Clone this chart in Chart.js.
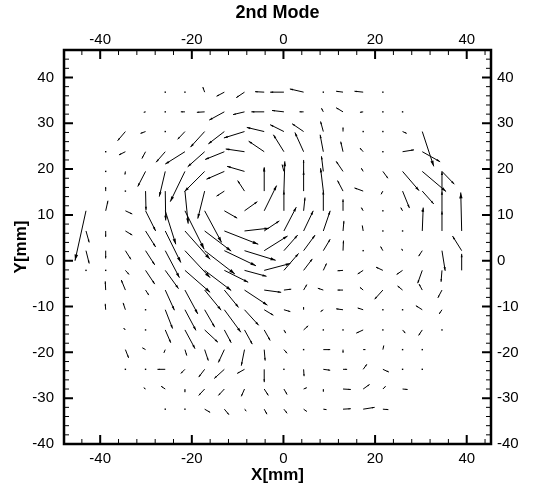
<!DOCTYPE html>
<html>
<head>
<meta charset="utf-8">
<script src="https://cdn.jsdelivr.net/npm/chart.js@4.4.0/dist/chart.umd.min.js"></script>
<style>
  html, body { margin: 0; padding: 0; background: #fff; }
</style>
</head>
<body>
<canvas id="chart" width="539" height="486"></canvas>
<script>
// measurement grid (mm)
const xGrid = [-43.1, -38.8, -34.5, -30.1, -25.8, -21.5, -17.2, -12.9, -8.5, -4.2,
  0.1, 4.4, 8.7, 13.0, 17.4, 21.7, 26.0, 30.3, 34.6, 38.9];
const yGrid = [36.8, 32.5, 28.2, 23.8, 19.5, 15.2, 10.9, 6.5, 2.2, -2.1,
  -6.4, -10.7, -15.1, -19.4, -23.7, -28.0, -32.4];

// vector components, one row per yGrid entry (null = no vector)
const uRows = [
  [null, null, null, null, 0.1, 0.1, -0.4, -1.7, -1.8, -2.0, -3.0, -3.0, 0.1, -1.5, -1.9, 0.1, null, null, null, null],
  [null, null, null, -0.4, 0.1, -0.9, -1.7, -3.3, -2.5, -2.8, -2.6, -0.9, -0.4, -1.5, -0.7, 0.1, 0.1, null, null, null],
  [null, null, -1.7, -1.1, 0.1, -1.6, -3.1, -3.5, -4.5, -3.8, -3.0, -2.5, -0.6, 0, 0.1, 0.1, 0.9, 2.5, null, null],
  [null, 0.1, -1.4, -0.8, -2.0, -4.3, -3.7, -4.2, -4.1, -3.4, -2.3, -1.9, -0.7, -0.5, -0.7, 0.1, 2.5, 3.9, null, null],
  [null, 0.1, -0.1, -1.7, -1.3, -3.2, -4.4, -3.9, -3.8, 0, -0.4, 0, -0.4, -1.5, -0.4, 1.1, 3.6, 5.2, 2.7, null],
  [null, 0, 0.1, 0.1, 0.1, 0.7, -1.5, -1.7, -1.5, 0, 0.2, 0, -0.6, -1.2, -1.9, -0.4, 1.5, 2.5, 0, null],
  [-2.4, 0.5, 1.5, 2.2, 2.3, 4.2, 3.7, 2.8, 2.8, 2.7, 0, 0.3, 0, 0, -0.4, 0.1, -0.4, 0.1, 0, null],
  [0.7, 0, 1.5, 2.2, 3.4, 5.5, 5.8, 7.4, 5.3, 3.3, 2.7, 2.1, 1.5, 0.2, -0.2, 0.1, 0.1, 0.2, 0, -0.2],
  [0.7, 0, 1.2, 2.0, 3.1, 5.5, 6.6, 6.9, 6.8, 5.1, 3.0, 2.5, 1.5, 0.1, 0.1, -0.5, -0.2, -0.8, 0.7, -2.0],
  [0.1, 0.1, 0.8, 2.0, 2.9, 5.5, 5.8, 5.2, 4.8, 5.7, 3.2, 1.9, 0.7, -1.2, -1.2, -1.5, -1.3, -1.0, -0.2, 0],
  [null, -0.1, -0.9, 0.7, 2.0, 2.8, 3.6, 3.1, 5.0, 3.7, 1.6, 0.7, -1.2, -1.2, -0.7, -1.8, -1.1, -0.7, -0.9, null],
  [null, -0.1, -0.5, 0.1, 1.6, 2.4, 2.2, 3.6, 3.1, 2.0, 1.4, 0, -0.6, -1.5, -1.2, 0.1, 0.1, -1.4, -0.6, null],
  [null, null, -0.4, 0.1, 1.2, 2.2, 2.9, 1.5, 1.7, 1.3, 0.4, 1.0, 0.1, 0.1, -1.5, 0.1, 0.6, -0.8, 0.1, null],
  [null, null, 0.7, -0.7, -0.3, 0.4, 0.8, -1.3, -0.7, 0.2, 0.7, 0.1, 1.5, 0, 0.5, 0.2, 0.1, 0.1, null, null],
  [null, null, 0.1, 0.1, -1.7, -0.9, -1.3, -2.2, -1.6, 0, 0.1, 0.1, 1.5, 0.9, 0.8, 1.3, 0.1, 0.1, null, null],
  [null, null, null, -0.4, -0.9, 0, -1.3, -1.3, -0.7, 0.9, 0.7, 0.7, 0, 1.7, 1.4, 0.6, 1.1, null, null, null],
  [null, null, null, null, 0.1, 0.1, 1.2, 1.0, 0.4, 0.6, 0.7, 0.7, 0.7, 1.7, 2.5, 1.2, null, null, null, null],
];
const vRows = [
  [null, null, null, null, 0, 0, 1.1, -0.9, -1.2, 0.1, 0, 0.7, 0, 0.2, 0.2, 0, null, null, null, null],
  [null, null, null, -0.1, 0, 0, -0.1, -1.8, -0.6, 0, 0.3, 0, 0.8, 0.9, -0.1, 0, 0, null, null, null],
  [null, null, -2.0, -0.4, 0, -1.7, -3.4, -2.7, -1.4, 0.9, 1.5, 1.7, 2.2, 0.9, 0, 0, -0.4, -7.6, null, null],
  [null, 0, -0.7, -1.5, -2.3, -2.7, -3.3, -1.7, 0.6, 2.3, 3.7, 4.2, 3.7, 2.2, 0.8, 0, 0.4, -2.2, null, null],
  [null, 0, -0.7, -3.3, -5.5, -6.6, -4.4, -1.7, 1.1, 0.7, 1.5, 2.5, 3.3, 2.2, 0.7, -1.5, -4.2, -4.4, -2.8, null],
  [null, 0.9, 0, -4.2, -6.4, -7.1, -6.0, -1.1, 2.3, 5.2, 6.5, 4.4, 5.0, 2.3, 0.7, -0.7, -3.7, -2.8, 4.3, null],
  [-10.9, 2.2, -0.7, -4.4, -7.3, -8.4, -6.9, -1.6, 2.0, 5.5, 4.4, 2.9, 4.4, 2.5, 0.7, 0, 0.7, 0, 4.3, null],
  [-2.5, -1.3, -0.9, -3.5, -6.9, -6.2, -4.4, -2.9, 0.6, 2.2, 5.2, 4.4, 4.4, 2.2, 1.2, 0, 0, 5.1, 4.4, 8.4],
  [-2.8, -1.7, -1.9, -3.1, -5.9, -5.9, -5.1, -3.3, -2.1, 3.2, 3.4, 3.4, 2.5, 2.2, 0, 0.9, 0.4, -1.2, -4.4, 3.2],
  [0, 0, -0.9, -3.0, -4.0, -4.8, -4.4, -2.6, -1.3, 1.5, 3.7, 2.5, 1.5, -0.1, -0.8, 0.7, -0.9, -2.8, -2.5, 3.6],
  [null, 1.9, 2.2, -1.1, -4.4, -5.2, -4.4, -3.8, -3.3, -0.5, 0.2, 1.2, 0.4, 0, 0.6, -2.0, 0.9, 1.3, -1.7, null],
  [null, 1.3, 1.5, 0, -4.1, -4.5, -3.8, -4.9, -3.4, -1.2, -0.4, 0.6, -0.4, 0.2, 0.4, 0, 0, 0.9, -0.9, null],
  [null, null, 0.4, 0, -2.8, -4.1, -2.7, -2.8, -3.1, -2.3, -0.7, 0.9, 0, 0, -0.7, 0, -0.7, -1.2, 0, null],
  [null, null, -1.8, 0.4, -0.7, -1.3, -2.4, -2.8, -3.5, -2.4, -0.8, 0, 0, -0.7, 0, 0.9, 0, 0, null, null],
  [null, null, 0, 0, 0, -0.9, -1.7, -2.0, -0.9, -2.8, 0, -1.5, -0.2, 0, 1.1, -0.6, 0, 0, null, null],
  [null, null, null, 0.3, 0.6, -0.7, -1.4, -1.4, -1.6, -1.4, -1.2, 0.3, -0.6, -0.1, 1.0, 0.6, -0.1, null, null, null],
  [null, null, null, null, 0, 0, -0.7, -1.2, -0.4, -1.1, -0.9, -0.5, -0.1, 0.1, 0.4, -0.1, null, null, null, null],
];

const xTicks = [-40, -20, 0, 20, 40];
const yTicks = [-40, -30, -20, -10, 0, 10, 20, 30, 40];
const xMinor = [-44, -36, -32, -28, -24, -16, -12, -8, -4, 4, 8, 12, 16, 24, 28, 32, 36, 44];
const yMinor = [-38, -36, -34, -32, -28, -26, -24, -22, -18, -16, -14, -12, -8, -6, -4, -2,
  2, 4, 6, 8, 12, 14, 16, 18, 22, 24, 26, 28, 32, 34, 36, 38, 42, 44];

const vectors = [];
yGrid.forEach((yv, j) => {
  xGrid.forEach((xv, i) => {
    if (uRows[j][i] !== null) {
      vectors.push({ x: xv, y: yv, u: uRows[j][i], v: vRows[j][i] });
    }
  });
});

const tickFont = { family: 'Liberation Sans, Arial, sans-serif', size: 15 };

// arrows drawn tail-at-point, head at (x+u, y+v)
const quiverPlugin = {
  id: 'quiver',
  afterDatasetsDraw(chart) {
    const { ctx } = chart;
    const xs = chart.scales.x;
    const ys = chart.scales.y;
    ctx.save();
    ctx.strokeStyle = '#000';
    ctx.fillStyle = '#000';
    ctx.lineWidth = 1;
    chart.data.datasets[0].data.forEach((p) => {
      const x0 = xs.getPixelForValue(p.x);
      const y0 = ys.getPixelForValue(p.y);
      const x1 = xs.getPixelForValue(p.x + p.u);
      const y1 = ys.getPixelForValue(p.y + p.v);
      const len = Math.hypot(x1 - x0, y1 - y0);
      if (len < 1.5) {
        ctx.fillRect(x0 - 0.7, y0 - 0.7, 1.4, 1.4);
        return;
      }
      const ang = Math.atan2(y1 - y0, x1 - x0);
      const head = Math.min(6.5, 1.5 + len * 0.12);
      const spread = 0.28;
      ctx.beginPath();
      ctx.moveTo(x0, y0);
      ctx.lineTo(x1, y1);
      ctx.stroke();
      ctx.beginPath();
      ctx.moveTo(x1, y1);
      ctx.lineTo(x1 - head * Math.cos(ang - spread), y1 - head * Math.sin(ang - spread));
      ctx.lineTo(x1 - head * Math.cos(ang + spread), y1 - head * Math.sin(ang + spread));
      ctx.closePath();
      ctx.fill();
    });
    ctx.restore();
  },
};

// box frame, inward tick marks and titles
const framePlugin = {
  id: 'frame',
  afterDraw(chart) {
    const { ctx, chartArea: a } = chart;
    const xs = chart.scales.x;
    const ys = chart.scales.y;
    ctx.save();
    ctx.strokeStyle = '#000';

    const xTick = (v, len, w) => {
      const px = xs.getPixelForValue(v);
      ctx.lineWidth = w;
      ctx.beginPath();
      ctx.moveTo(px, a.top); ctx.lineTo(px, a.top + len);
      ctx.moveTo(px, a.bottom); ctx.lineTo(px, a.bottom - len);
      ctx.stroke();
    };
    const yTick = (v, len, w) => {
      const py = ys.getPixelForValue(v);
      ctx.lineWidth = w;
      ctx.beginPath();
      ctx.moveTo(a.left, py); ctx.lineTo(a.left + len, py);
      ctx.moveTo(a.right, py); ctx.lineTo(a.right - len, py);
      ctx.stroke();
    };
    xMinor.forEach((v) => xTick(v, 5, 1));
    xTicks.forEach((v) => xTick(v, 9, 2));
    yMinor.forEach((v) => yTick(v, 5, 1));
    yTicks.forEach((v) => yTick(v, 9, 2));

    ctx.lineWidth = 2.5;
    ctx.strokeRect(a.left, a.top, a.right - a.left, a.bottom - a.top);

    ctx.fillStyle = '#000';
    ctx.textAlign = 'center';
    ctx.textBaseline = 'alphabetic';
    ctx.font = 'bold 18px "Liberation Sans", Arial, sans-serif';
    ctx.fillText('2nd Mode', (a.left + a.right) / 2, 18);
    ctx.font = 'bold 17px "Liberation Sans", Arial, sans-serif';
    ctx.fillText('X[mm]', (a.left + a.right) / 2, 480);
    ctx.translate(26, (a.top + a.bottom) / 2);
    ctx.rotate(-Math.PI / 2);
    ctx.fillText('Y[mm]', 0, 0);
    ctx.restore();
  },
};

const axisBase = (ticks, padding) => ({
  type: 'linear',
  grid: { display: false, drawTicks: false },
  border: { display: false },
  afterBuildTicks: (scale) => {
    scale.ticks = ticks.map((v) => ({ value: v }));
  },
  ticks: {
    color: '#000',
    font: tickFont,
    padding,
    autoSkip: false,
    maxRotation: 0,
    callback: (v) => String(v),
  },
});

const xRange = { min: -47.9, max: 45.3 };
const yRange = { min: -40, max: 46 };

new Chart(document.getElementById('chart'), {
  type: 'scatter',
  data: {
    datasets: [
      {
        data: vectors,
        pointRadius: 0,
        showLine: false,
        xAxisID: 'x',
        yAxisID: 'y',
      },
    ],
  },
  options: {
    responsive: false,
    animation: false,
    layout: { padding: 0 },
    plugins: { legend: { display: false }, tooltip: { enabled: false } },
    scales: {
      x: { ...axisBase(xTicks, 6), ...xRange, position: 'bottom',
        afterFit: (s) => { s.height = 42; } },
      x2: { ...axisBase(xTicks, 1), ...xRange, position: 'top',
        afterFit: (s) => { s.height = 50; } },
      y: { ...axisBase(yTicks, 10), ...yRange, position: 'left',
        afterFit: (s) => { s.width = 64; } },
      y2: { ...axisBase(yTicks, 6), ...yRange, position: 'right',
        afterFit: (s) => { s.width = 48; } },
    },
  },
  plugins: [quiverPlugin, framePlugin],
});
</script>
</body>
</html>
